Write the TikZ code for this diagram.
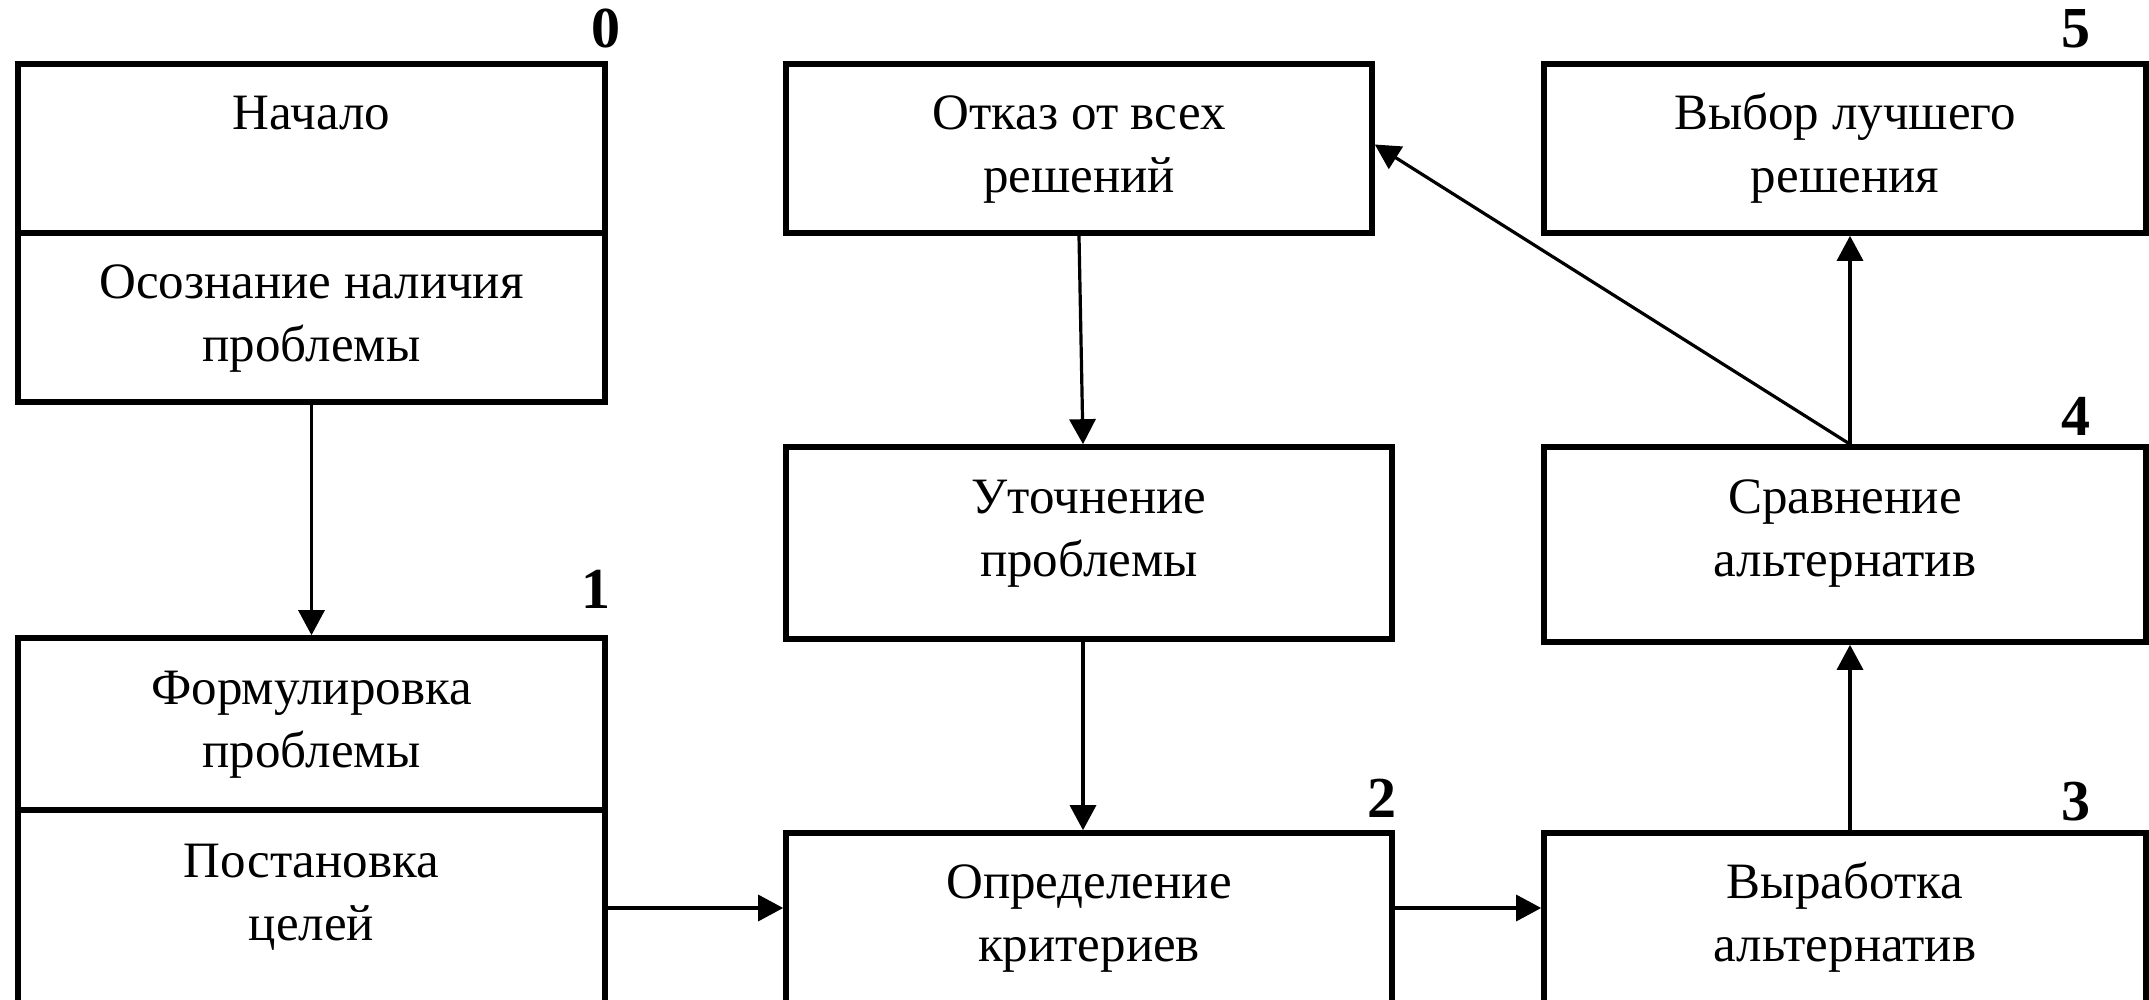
\documentclass[tikz,border=0pt]{standalone}
\usepackage{fontspec}
\setmainfont{Liberation Serif}
\usetikzlibrary{arrows.meta,fit}
\begin{document}
\begin{tikzpicture}[x=0.5pt,y=-0.5pt,
  box/.style={draw, line width=2.8pt, inner sep=0pt},
  txt/.style={font=\fontsize{25.5}{31}\selectfont, inner sep=0pt, anchor=base},
  num/.style={font=\fontsize{29}{34}\selectfont\bfseries, inner sep=0pt, anchor=base},
  conn/.style={line width=1.6pt, -{Triangle[length=12.5pt,width=13pt]}},
]
\useasboundingbox (0,0) rectangle (2149,1000);
\clip (0,0) rectangle (2149,1000);

% corners
\coordinate (a1) at (18,64);   \coordinate (a2) at (605,233);
\coordinate (a3) at (18,233);  \coordinate (a4) at (605,402);
\coordinate (a5) at (18,638);  \coordinate (a6) at (605,810);
\coordinate (a7) at (18,810);  \coordinate (a8) at (605,1040);
\coordinate (c1) at (786,64);  \coordinate (c2) at (1372,233);
\coordinate (c3) at (786,447); \coordinate (c4) at (1392,639);
\coordinate (c5) at (786,833); \coordinate (c6) at (1392,1040);
\coordinate (e1) at (1544,64); \coordinate (e2) at (2146,233);
\coordinate (e3) at (1544,447);\coordinate (e4) at (2146,642);
\coordinate (e5) at (1544,833);\coordinate (e6) at (2146,1040);

\node[box, fit=(a1)(a2)] (b0a) {};
\node[box, fit=(a3)(a4)] (b0b) {};
\node[box, fit=(a5)(a6)] (b1a) {};
\node[box, fit=(a7)(a8)] (b1b) {};
\node[box, fit=(c1)(c2)] (otk) {};
\node[box, fit=(c3)(c4)] (uto) {};
\node[box, fit=(c5)(c6)] (opr) {};
\node[box, fit=(e1)(e2)] (vyb) {};
\node[box, fit=(e3)(e4)] (srav) {};
\node[box, fit=(e5)(e6)] (vyr) {};

% texts
\node[txt] (t0a) at (311.5,130) {Начало};
\node[txt] (t0b1) at (311.5,299) {Осознание наличия};
\node[txt] (t0b2) at (311.5,362) {проблемы};
\node[txt] (t1a1) at (311.5,704) {Формулировка};
\node[txt] (t1a2) at (311.5,767) {проблемы};
\node[txt] (t1b1) at (311.5,877) {Постановка};
\node[txt] (t1b2) at (311.5,940) {целей};
\node[txt] (totk1) at (1079,130) {Отказ от всех};
\node[txt] (totk2) at (1079,193) {решений};
\node[txt] (tuto1) at (1089,513) {Уточнение};
\node[txt] (tuto2) at (1089,576) {проблемы};
\node[txt] (topr1) at (1089,898) {Определение};
\node[txt] (topr2) at (1089,961) {критериев};
\node[txt] (tvyb1) at (1845,130) {Выбор лучшего};
\node[txt] (tvyb2) at (1845,193) {решения};
\node[txt] (tsr1) at (1845,513) {Сравнение};
\node[txt] (tsr2) at (1845,576) {альтернатив};
\node[txt] (tvy1) at (1845,898) {Выработка};
\node[txt] (tvy2) at (1845,961) {альтернатив};

% numbers
\node[num] (n0) at (606,48) {0};
\node[num] (n1) at (596,608) {1};
\node[num] (n2) at (1382,817) {2};
\node[num] (n3) at (2076,820) {3};
\node[num] (n4) at (2076,436) {4};
\node[num] (n5) at (2076,48) {5};

% connectors
\coordinate (hy) at (0,908);
\draw[conn] (b0b.south) -- (b1a.north);
\draw[conn] (otk.south) -- ([xshift=-3pt]uto.north);
\draw[conn] ([xshift=-3pt]uto.south) -- ([xshift=-3pt]opr.north);
\draw[conn] (b1b.east |- hy) -- (opr.west |- hy);
\draw[conn] (opr.east |- hy) -- (vyr.west |- hy);
\draw[conn] ([xshift=2.5pt]vyr.north) -- ([xshift=2.5pt]srav.south);
\draw[conn] ([xshift=2.5pt]srav.north) -- ([xshift=2.5pt]vyb.south);
\draw[conn] ([xshift=2.5pt]srav.north) -- ([yshift=2pt]otk.east);
\end{tikzpicture}
\end{document}
